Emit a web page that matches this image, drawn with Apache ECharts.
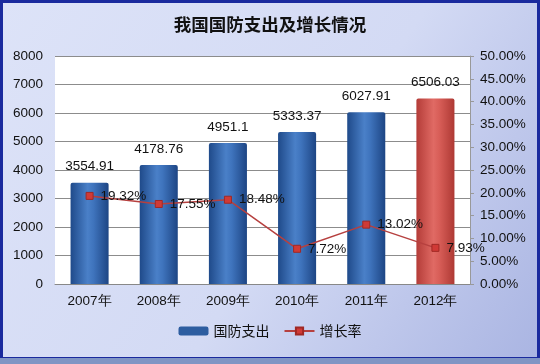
<!DOCTYPE html>
<html><head><meta charset="utf-8">
<script src="https://cdn.jsdelivr.net/npm/echarts@6/dist/echarts.min.js"></script>
<style>html,body{margin:0;padding:0;}#c{width:540px;height:364px;}</style>
</head><body><div id="c"></div>
<script>
const categories = ['2007年','2008年','2009年','2010年','2011年','2012年'];
const spending = [3554.91, 4178.76, 4951.1, 5333.37, 6027.91, 6506.03];
const growth = [19.32, 17.55, 18.48, 7.72, 13.02, 7.93];

const chart = echarts.init(document.getElementById('c'));
const blueGrad = new echarts.graphic.LinearGradient(0,0,1,0,[
  {offset:0,color:'#1f4a8a'},{offset:0.45,color:'#4a80c8'},{offset:0.6,color:'#3f74bd'},{offset:1,color:'#1d4584'}]);
const redGrad = new echarts.graphic.LinearGradient(0,0,1,0,[
  {offset:0,color:'#b43c38'},{offset:0.45,color:'#e06a64'},{offset:0.6,color:'#d85e58'},{offset:1,color:'#ae3934'}]);
const font = 'Liberation Sans, Arial, sans-serif';
chart.setOption({
  animation:false,
  backgroundColor: new echarts.graphic.LinearGradient(0,0,1,1,[
    {offset:0,color:'#dde3f8'},{offset:0.55,color:'#d3daf4'},{offset:1,color:'#a9b4e2'}]),
  graphic:[
    {type:'rect',shape:{x:1.5,y:1.5,width:537,height:357},style:{fill:'none',stroke:'#1a2a9e',lineWidth:3},silent:true},
    {type:'rect',shape:{x:0,y:358,width:540,height:6},style:{fill:'#8095c4'},silent:true}
  ],
  title:{text:'我国国防支出及增长情况',left:'center',top:11,
    textStyle:{fontFamily:'Noto Sans CJK SC',fontSize:17.5,fontWeight:'bold',color:'#111'}},
  legend:{bottom:21,left:'center',itemGap:14,itemWidth:30,itemHeight:9,
    textStyle:{fontFamily:'Noto Sans CJK SC',fontSize:14,color:'#111'},
    data:[{name:'国防支出',icon:'roundRect',itemStyle:{color:'#2d5da0'}},{name:'增长率'}]},
  grid:{left:55,right:70,top:56,bottom:80,show:true,backgroundColor:'#fff',borderWidth:0},
  xAxis:{type:'category',data:categories,
    axisLine:{lineStyle:{color:'#888'}},axisTick:{show:false},
    axisLabel:{fontFamily:font,fontSize:13.5,color:'#111',margin:10}},
  yAxis:[
    {type:'value',min:0,max:8000,interval:1000,
     axisLine:{show:false},axisTick:{show:false},
     splitLine:{lineStyle:{color:'#8c8c8c'}},
     axisLabel:{fontFamily:font,fontSize:13.5,color:'#111',margin:12,formatter:v=>String(v)}},
    {type:'value',min:0,max:0.5,interval:0.05,
     axisLine:{show:true,lineStyle:{color:'#999'}},axisTick:{show:true,length:4,lineStyle:{color:'#999'}},
     splitLine:{show:false},
     axisLabel:{fontFamily:font,fontSize:13.5,color:'#111',margin:10,formatter:v=>(v*100).toFixed(2)+'%'}}
  ],
  series:[
    {name:'国防支出',type:'bar',barWidth:'55%',yAxisIndex:0,
     data:spending.map((v,i)=>({value:v,itemStyle:{color:i===spending.length-1?redGrad:blueGrad,borderRadius:[2,2,0,0]}})),
     label:{show:true,position:'top',distance:9,fontFamily:font,fontSize:13.5,color:'#111'}},
    {name:'增长率',type:'line',yAxisIndex:1,
     data:growth.map(v=>v/100),
     symbol:'rect',symbolSize:7,
     lineStyle:{color:'#b6403f',width:1.5},
     itemStyle:{color:'#d03a36',borderColor:'#a02824',borderWidth:1},
     label:{show:true,position:'right',distance:7,fontFamily:font,fontSize:13.5,color:'#111',
       formatter:p=>(p.value*100).toFixed(2)+'%'}}
  ]
});
</script></body></html>
